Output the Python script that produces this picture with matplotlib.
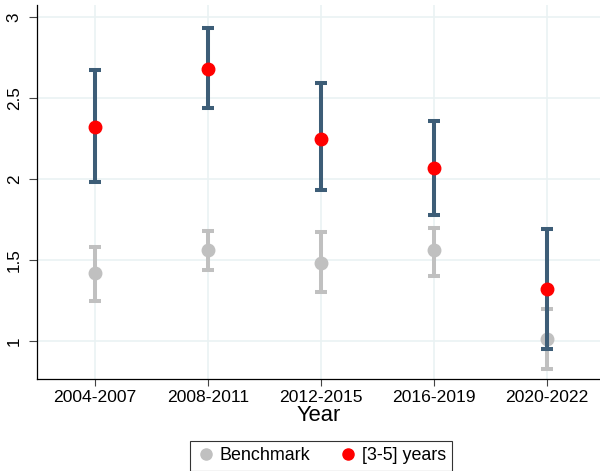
import matplotlib
matplotlib.use('Agg')
import matplotlib.pyplot as plt
from matplotlib.lines import Line2D

plt.rcParams['font.family'] = ['Liberation Sans', 'DejaVu Sans']

periods = ['2004-2007', '2008-2011', '2012-2015', '2016-2019', '2020-2022']

bench_est = [1.42, 1.56, 1.48, 1.56, 1.01]
bench_lo = [1.25, 1.44, 1.30, 1.40, 0.83]
bench_hi = [1.58, 1.68, 1.67, 1.70, 1.20]

yrs_est = [2.32, 2.68, 2.25, 2.07, 1.32]
yrs_lo = [1.98, 2.44, 1.93, 1.78, 0.95]
yrs_hi = [2.67, 2.93, 2.59, 2.36, 1.69]

navy = '#3d5d77'
grey = '#c0c0c0'
red = '#ff0000'

fig = plt.figure(figsize=(6, 4.71), dpi=100)
ax = fig.add_axes([37 / 600, 92 / 471, 1 - 37 / 600, (379 - 5) / 471])

x = list(range(1, len(periods) + 1))

def draw(est, lo, hi, barcol, dotcol, z):
    err = [[e - l for e, l in zip(est, lo)], [h - e for e, h in zip(est, hi)]]
    ax.errorbar(x, est, yerr=err, fmt='none', ecolor=barcol, elinewidth=2.9,
                capsize=4.5, capthick=2.9, zorder=z)
    ax.plot(x, est, 'o', color=dotcol, markersize=9, zorder=z + 0.5)

draw(bench_est, bench_lo, bench_hi, grey, grey, 3)
draw(yrs_est, yrs_lo, yrs_hi, navy, red, 4)

ax.set_xlim(1 - 58 / 113, 5 + 53 / 113)
ax.set_ylim(1 - 38 / 162, 3 + 12 / 162)
ax.set_xticks(x)
ax.set_xticklabels(periods, fontsize=12.6)
ax.set_yticks([1, 1.5, 2, 2.5, 3])
ax.set_yticklabels(['1', '1.5', '2', '2.5', '3'], fontsize=12.3, rotation=90, va='center')
ax.grid(True, color='#eaf2f3', linewidth=1.2, zorder=0)
ax.set_axisbelow(True)
ax.tick_params(axis='x', direction='out', length=5, width=0.8, colors='black', pad=3,
               color='#444444')
ax.tick_params(axis='y', direction='out', length=6, width=0.8, colors='black', pad=5,
               color='#444444')
for s in ['top', 'right']:
    ax.spines[s].set_visible(False)
for s in ['left', 'bottom']:
    ax.spines[s].set_linewidth(0.9)
ax.set_xlabel('Year', fontsize=15.8, labelpad=0)

handles = [
    Line2D([], [], marker='o', linestyle='none', color=grey, markersize=8),
    Line2D([], [], marker='o', linestyle='none', color=red, markersize=8),
]
leg = fig.legend(handles, ['Benchmark', '[3-5] years'], loc='upper center',
                 bbox_to_anchor=(321 / 600, 1 - 441 / 471), ncol=2, fontsize=12.9,
                 frameon=True, fancybox=False, edgecolor='black', handletextpad=0.2,
                 columnspacing=1.6, borderpad=0.35, handlelength=1.1, borderaxespad=0)
leg.get_frame().set_linewidth(0.8)

fig.savefig('out.png', dpi=100)
